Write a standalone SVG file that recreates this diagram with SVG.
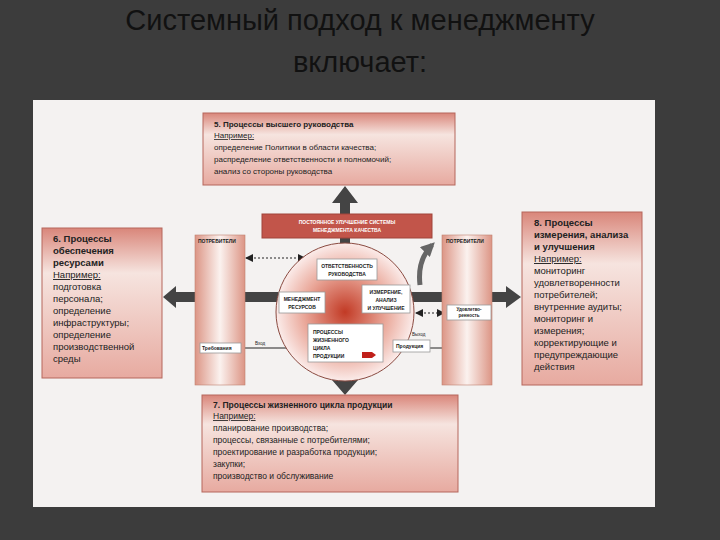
<svg xmlns="http://www.w3.org/2000/svg" width="720" height="540" viewBox="0 0 720 540">
<defs>
<linearGradient id="pink" x1="0" y1="0" x2="0" y2="1"><stop offset="0" stop-color="#d9867a"/><stop offset="0.3" stop-color="#f6e4df"/><stop offset="1" stop-color="#e7aaa0"/></linearGradient>
<linearGradient id="col" x1="0" y1="0" x2="1" y2="0"><stop offset="0" stop-color="#dc9585"/><stop offset="0.5" stop-color="#fbf2ef"/><stop offset="1" stop-color="#dc9585"/></linearGradient>
<radialGradient id="circ" cx="0.5" cy="0.5" r="0.5"><stop offset="0" stop-color="#c23a25"/><stop offset="0.6" stop-color="#eaa89a"/><stop offset="1" stop-color="#fbecea"/></radialGradient>
<marker id="ah" markerUnits="userSpaceOnUse" markerWidth="8" markerHeight="8" refX="7" refY="4" orient="auto-start-reverse"><path d="M0,0 L8,4 L0,8 z" fill="#222"/></marker>
<marker id="ahg" markerUnits="userSpaceOnUse" markerWidth="14" markerHeight="14" refX="10" refY="7" orient="auto"><path d="M0,0 L14,7 L0,14 z" fill="#666"/></marker>
</defs>
<style>
.t{font-family:"Liberation Sans",Arial,sans-serif;fill:#222}
.b{font-weight:bold}
.box{fill:url(#pink);stroke:#b5675c;stroke-width:1}
.ib{fill:#fff;stroke:#999;stroke-width:0.8}
.s{font-size:5px;font-weight:bold}
</style>
<rect width="720" height="540" fill="#3c3c3c"/>
<text x="360" y="30" text-anchor="middle" font-family="Liberation Sans,Arial,sans-serif" font-size="29" fill="#111">Системный подход к менеджменту</text>
<text x="360" y="72" text-anchor="middle" font-family="Liberation Sans,Arial,sans-serif" font-size="29" fill="#111">включает:</text>
<rect x="33" y="100" width="622" height="407" fill="#f4f2f1"/>

<g id="connectors" stroke="#222" fill="none">
<path d="M176,292 H506 V286 L521,297 L506,308 V302 H176 V308 L163,297 L176,286 Z" fill="#444" stroke="none"/>
<path d="M340,203 L332,203 L345,186 L358,203 L350,203 V380 H358 L345,395 L332,380 H340 Z" fill="#444" stroke="none"/>
<line x1="246" y1="258" x2="305" y2="258" stroke-dasharray="2,2" marker-start="url(#ah)" marker-end="url(#ah)"/>
<line x1="416" y1="313" x2="444" y2="313" stroke-dasharray="2,2" marker-start="url(#ah)" marker-end="url(#ah)"/>
<line x1="243" y1="348" x2="307" y2="348" marker-end="url(#ah)"/>
<line x1="430" y1="348" x2="452" y2="348" marker-end="url(#ah)"/>
<path d="M420,285 C418,268 422,255 432,245" stroke="#666" stroke-width="5" marker-end="url(#ahg)"/>
<path d="M306,273 Q300,280 298,290" stroke="#888" stroke-width="3"/>
<path d="M297,318 Q300,328 306,335" stroke="#888" stroke-width="3"/>
<path d="M395,335 Q398,328 402,318" stroke="#888" stroke-width="3"/>
<path d="M389,266 Q395,273 398,282" stroke="#888" stroke-width="3"/>
</g>

<g id="circle"><circle cx="345" cy="312" r="69" fill="url(#circ)" stroke="#8a4a40" stroke-width="1"/></g>

<g id="n5"><rect class="box" x="203" y="113" width="252" height="72"/>
<text class="t" font-size="8"><tspan class="b" x="214" y="127">5. Процессы высшего руководства</tspan><tspan x="214" y="138" text-decoration="underline">Например:</tspan><tspan x="214" y="150">определение Политики в области качества;</tspan><tspan x="214" y="162">распределение ответственности и полномочий;</tspan><tspan x="214" y="174">анализ со стороны руководства</tspan></text></g>

<g id="n6"><rect class="box" x="42" y="228" width="120" height="150"/>
<text class="t" font-size="9.5"><tspan class="b" x="53" y="242">6. Процессы</tspan><tspan class="b" x="53" y="254">обеспечения</tspan><tspan class="b" x="53" y="266">ресурсами</tspan><tspan x="53" y="278" text-decoration="underline">Например:</tspan><tspan x="53" y="290">подготовка</tspan><tspan x="53" y="302">персонала;</tspan><tspan x="53" y="314">определение</tspan><tspan x="53" y="326">инфраструктуры;</tspan><tspan x="53" y="338">определение</tspan><tspan x="53" y="350">производственной</tspan><tspan x="53" y="362">среды</tspan></text></g>

<g id="n8"><rect class="box" x="522" y="212" width="120" height="173"/>
<text class="t" font-size="9.5"><tspan class="b" x="534" y="226">8. Процессы</tspan><tspan class="b" x="534" y="238">измерения, анализа</tspan><tspan class="b" x="534" y="250">и улучшения</tspan><tspan x="534" y="262" text-decoration="underline">Например:</tspan><tspan x="534" y="274">мониторинг</tspan><tspan x="534" y="286">удовлетворенности</tspan><tspan x="534" y="298">потребителей;</tspan><tspan x="534" y="310">внутренние аудиты;</tspan><tspan x="534" y="322">мониторинг и</tspan><tspan x="534" y="334">измерения;</tspan><tspan x="534" y="346">корректирующие и</tspan><tspan x="534" y="358">предупреждающие</tspan><tspan x="534" y="370">действия</tspan></text></g>

<g id="n7"><rect class="box" x="202" y="395" width="256" height="97"/>
<text class="t" font-size="8.5"><tspan class="b" x="213" y="408">7. Процессы жизненного цикла продукции</tspan><tspan x="213" y="419" text-decoration="underline">Например:</tspan><tspan x="213" y="431">планирование производства;</tspan><tspan x="213" y="443">процессы, связанные с потребителями;</tspan><tspan x="213" y="455">проектирование и разработка продукции;</tspan><tspan x="213" y="467">закупки;</tspan><tspan x="213" y="479">производство и обслуживание</tspan></text></g>

<g id="banner"><rect x="262" y="214" width="170" height="24" fill="#c2554a" stroke="#a0443a"/>
<text class="t s" style="fill:#fff" text-anchor="middle"><tspan x="347" y="224">ПОСТОЯННОЕ УЛУЧШЕНИЕ СИСТЕМЫ</tspan><tspan x="347" y="232">МЕНЕДЖМЕНТА КАЧЕСТВА</tspan></text></g>

<g id="consL"><rect x="195" y="235" width="50" height="150" fill="url(#col)" stroke="#c08070" stroke-width="0.6"/><text class="t s" x="198" y="243">ПОТРЕБИТЕЛИ</text></g>
<g id="consR"><rect x="442" y="235" width="50" height="150" fill="url(#col)" stroke="#c08070" stroke-width="0.6"/><text class="t s" x="446" y="243">ПОТРЕБИТЕЛИ</text></g>

<g id="resp"><rect class="ib" x="317" y="259" width="60" height="21"/><text class="t s" text-anchor="middle"><tspan x="347" y="268">ОТВЕТСТВЕННОСТЬ</tspan><tspan x="347" y="276">РУКОВОДСТВА</tspan></text></g>
<g id="res"><rect class="ib" x="279" y="292" width="46" height="21"/><text class="t s" text-anchor="middle"><tspan x="302" y="301">МЕНЕДЖМЕНТ</tspan><tspan x="302" y="309">РЕСУРСОВ</tspan></text></g>
<g id="meas"><rect class="ib" x="362" y="285" width="48" height="28"/><text class="t s" text-anchor="middle"><tspan x="386" y="294">ИЗМЕРЕНИЕ,</tspan><tspan x="386" y="302">АНАЛИЗ</tspan><tspan x="386" y="310">И УЛУЧШЕНИЕ</tspan></text></g>
<g id="lcp"><rect class="ib" x="308" y="324" width="75" height="38"/><text class="t s"><tspan x="313" y="334">ПРОЦЕССЫ</tspan><tspan x="313" y="342">ЖИЗНЕННОГО</tspan><tspan x="313" y="350">ЦИКЛА</tspan><tspan x="313" y="358">ПРОДУКЦИИ</tspan></text><path d="M362,352 h10 l4,3 l-4,3 h-10 z" fill="#c0201a"/></g>
<g id="prod"><rect class="ib" x="393" y="340" width="37" height="12"/><text class="t s" x="396" y="348">Продукция</text><text class="t" font-size="4.5" x="412" y="336">Выход</text></g>
<g id="req"><rect class="ib" x="200" y="343" width="41" height="10"/><text class="t s" x="202" y="350">Требования</text><text class="t" font-size="4.5" x="255" y="345">Вход</text></g>
<g id="sat"><rect class="ib" x="447" y="305" width="44" height="15"/><text class="t" font-size="4.5" font-weight="bold" text-anchor="middle"><tspan x="469" y="311">Удовлетво-</tspan><tspan x="469" y="317">ренность</tspan></text></g>
</svg>
